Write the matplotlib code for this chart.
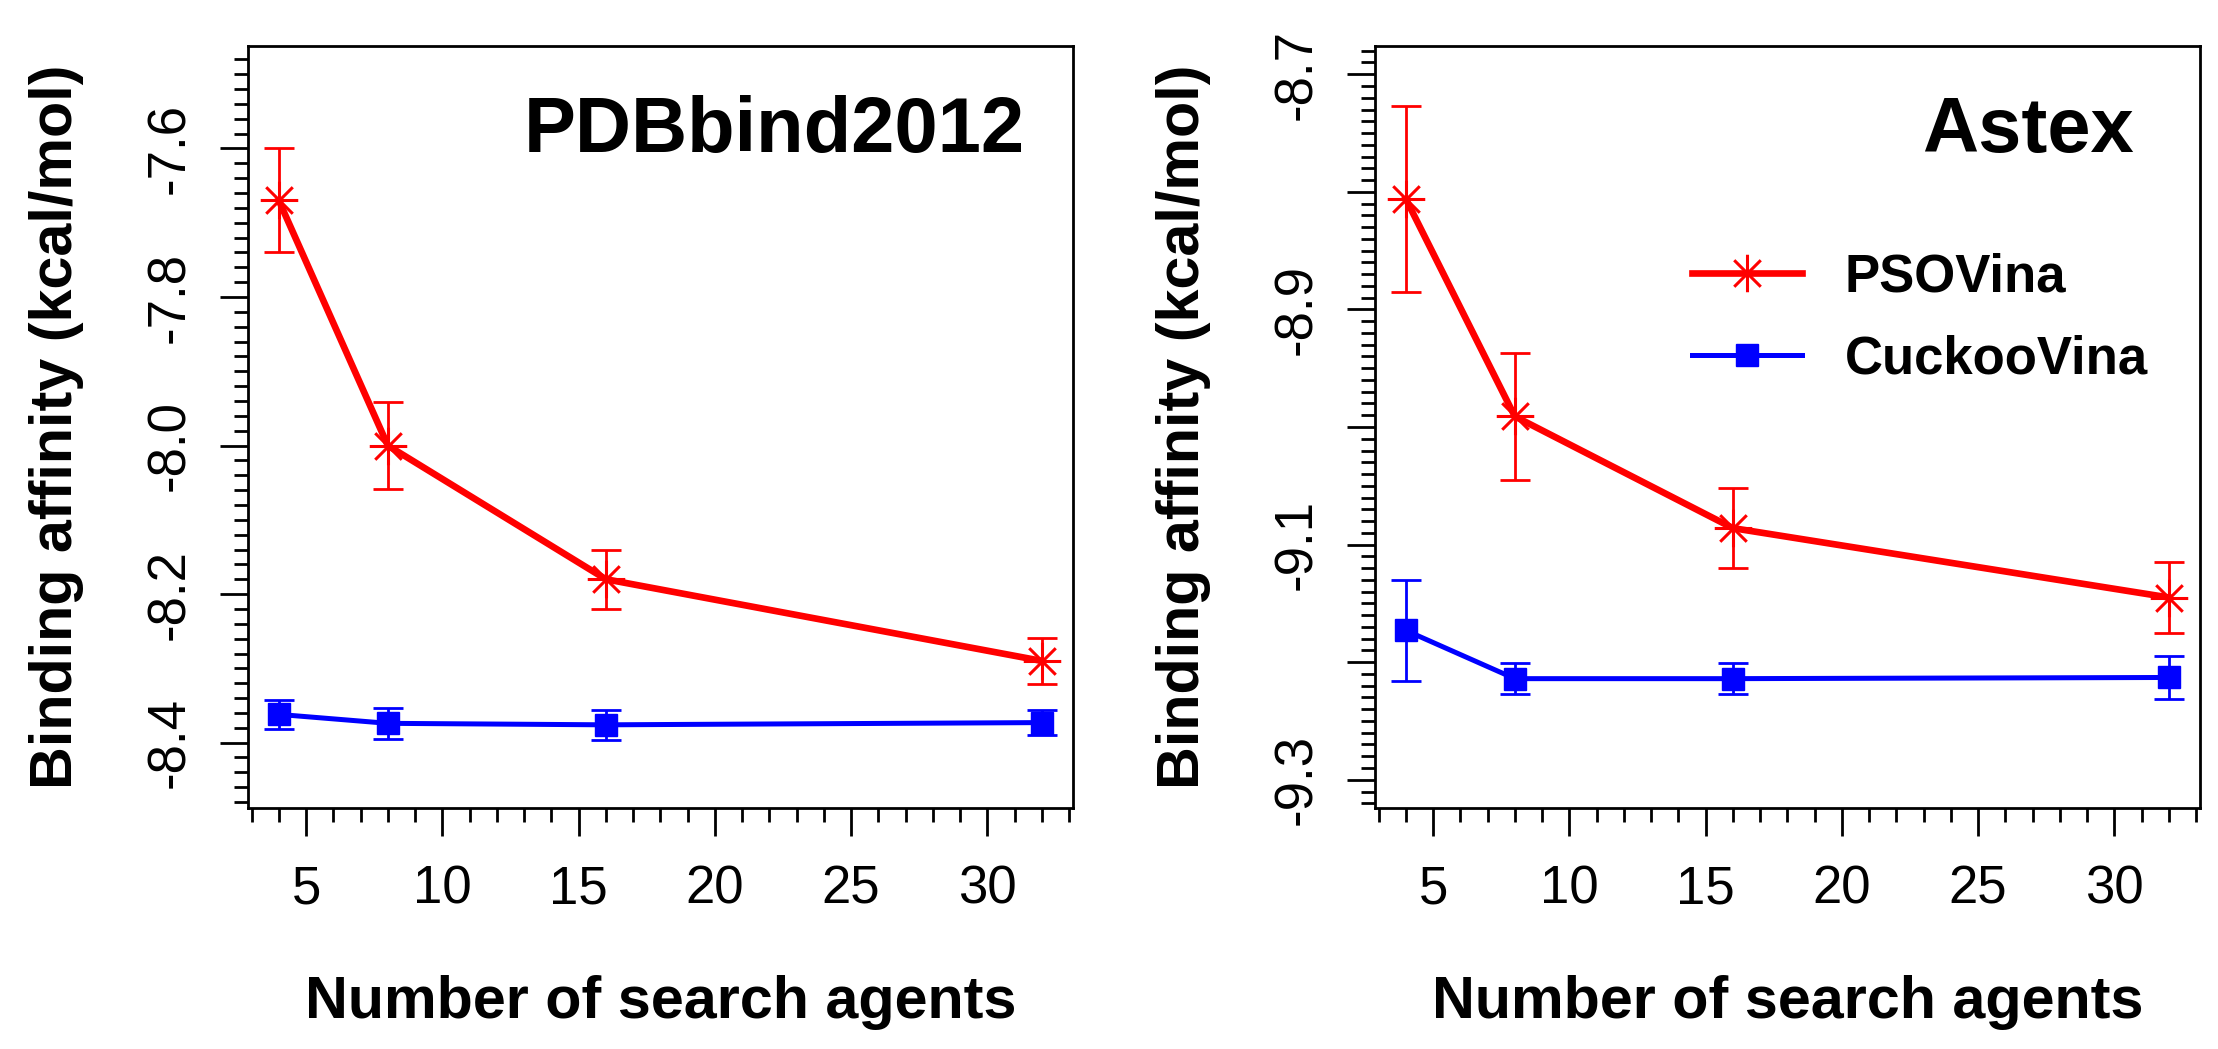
import numpy as np
import matplotlib
matplotlib.use("Agg")
import matplotlib.pyplot as plt
from matplotlib.path import Path
from matplotlib.ticker import MultipleLocator, FuncFormatter

plt.rcParams['font.family'] = ['Liberation Sans', 'DejaVu Sans']
plt.rcParams['axes.unicode_minus'] = False

# data
agents = [4, 8, 16, 32]

pdb_pso = [-7.67, -8.00, -8.18, -8.29]
pdb_pso_err = [0.07, 0.058, 0.04, 0.031]
pdb_cuckoo = [-8.362, -8.374, -8.376, -8.373]
pdb_cuckoo_err = [0.019, 0.021, 0.02, 0.017]

astex_pso = [-8.806, -8.991, -9.086, -9.145]
astex_pso_err = [0.079, 0.054, 0.034, 0.03]
astex_cuckoo = [-9.173, -9.214, -9.214, -9.213]
astex_cuckoo_err = [0.043, 0.013, 0.013, 0.018]

titles = ["PDBbind2012", "Astex"]
series_names = ["PSOVina", "CuckooVina"]

# R style asterisk (pch = 8): 8 spokes of equal length
r = 1 / np.sqrt(2)
star = Path([(-1, 0), (1, 0), (0, -1), (0, 1), (-r, -r), (r, r), (-r, r), (r, -r)],
            [Path.MOVETO, Path.LINETO] * 4)


def r_lim(lo, hi):
    # mimic R's 4% axis expansion
    d = (hi - lo) * 0.04
    return lo - d, hi + d


fig = plt.figure(figsize=(22.18, 10.49), dpi=100)
W, H = 2218.0, 1049.0
ax1 = fig.add_axes([248.3 / W, 1 - 808 / H, 824.2 / W, 762 / H])
ax2 = fig.add_axes([1375.3 / W, 1 - 808 / H, 824.2 / W, 762 / H])


def draw_panel(ax, pso, pso_err, cuc, cuc_err, ylim, major, minor, title, title_x, odd_only):
    ax.errorbar(agents, pso, yerr=pso_err, fmt='none', ecolor='#ff0000',
                elinewidth=2, capsize=10.5, capthick=2, zorder=2)
    ax.errorbar(agents, cuc, yerr=cuc_err, fmt='none', ecolor='#0000ff',
                elinewidth=2, capsize=10.5, capthick=2, zorder=2)
    ax.plot(agents, pso, color='#ff0000', lw=4.8, marker=star, ms=27,
            mfc='none', mec='#ff0000', mew=2.2, label=series_names[0], zorder=3)
    ax.plot(agents, cuc, color='#0000ff', lw=3.6, marker='s', ms=16,
            mfc='#0000ff', mec='#0000ff', mew=1, label=series_names[1], zorder=3)

    ax.set_xlim(*r_lim(4, 32))
    ax.set_ylim(*r_lim(*ylim))
    ax.xaxis.set_major_locator(MultipleLocator(5))
    ax.xaxis.set_minor_locator(MultipleLocator(1))
    ax.yaxis.set_major_locator(MultipleLocator(major))
    ax.yaxis.set_minor_locator(MultipleLocator(minor))

    # R drops every other label on the Astex axis
    if odd_only:
        fmt = lambda v, p: ('%.1f' % v) if int(round(abs(v) * 10)) % 2 == 1 else ''
    else:
        fmt = lambda v, p: '%.1f' % v
    ax.yaxis.set_major_formatter(FuncFormatter(fmt))

    for s in ax.spines.values():
        s.set_linewidth(2)
    ax.tick_params(which='major', length=20, width=2, labelsize=38)
    ax.tick_params(which='minor', length=10, width=2)
    ax.tick_params(axis='y', which='major', pad=18.5, labelrotation=90)
    ax.tick_params(axis='x', which='major', pad=21)
    for lab in ax.get_yticklabels():
        lab.set_va('center')

    ax.set_xlabel("Number of search agents", fontsize=42.7, fontweight='bold', va='baseline')
    ax.xaxis.set_label_coords(0.5, -0.2756)
    ax.set_ylabel("Binding affinity (kcal/mol)", fontsize=42.7, fontweight='bold',
                  va='baseline', ha='center', rotation_mode='anchor')
    ax.yaxis.set_label_coords(-0.2139, 0.5)

    ax.text(title_x, 0.861, title, transform=ax.transAxes, ha='right', va='baseline',
            fontsize=56, fontweight='bold')


draw_panel(ax1, pdb_pso, pdb_pso_err, pdb_cuckoo, pdb_cuckoo_err,
           (-8.45, -7.5), 0.2, 0.02, titles[0], 0.9426, False)
draw_panel(ax2, astex_pso, astex_pso_err, astex_cuckoo, astex_cuckoo_err,
           (-9.3, -8.7), 0.1, 0.01, titles[1], 0.9205, True)

leg = ax2.legend(loc='center left', bbox_to_anchor=(1692 / W, 1 - 318.5 / H),
                 bbox_transform=fig.transFigure, frameon=False, numpoints=1,
                 prop={'size': 38, 'weight': 'bold'}, handlelength=2.08,
                 handletextpad=0.81, labelspacing=0.62, borderpad=0, borderaxespad=0)

fig.savefig("out.png", dpi=100)
